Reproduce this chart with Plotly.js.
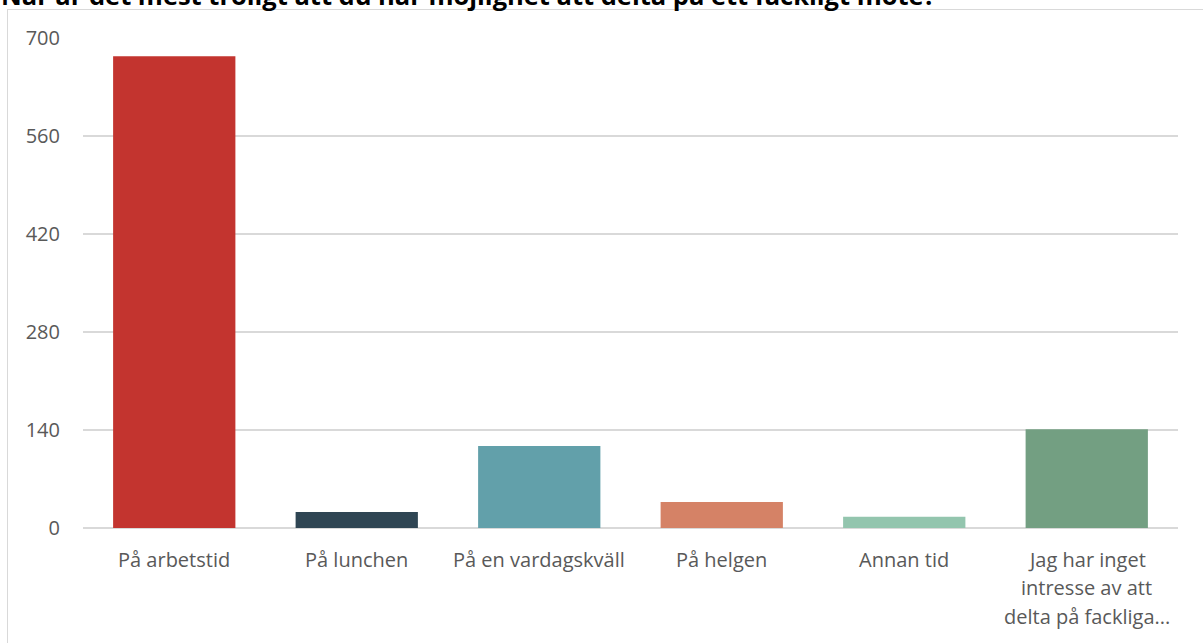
<!DOCTYPE html>
<html><head><meta charset="utf-8">
<script src="https://cdn.plot.ly/plotly-3.0.1.min.js"></script>
<style>
html,body{margin:0;padding:0;background:#fff;overflow:hidden}
#frame{position:absolute;left:7px;top:9px;width:1400px;height:800px;border:1.5px solid #D9D9D9;box-sizing:border-box}
#chart{position:absolute;left:0;top:0;width:1203px;height:643px}
</style></head>
<body>
<div id="frame"></div>
<div id="chart"></div>
<script>
const titleText = "När är det mest troligt att du har möjlighet att delta på ett fackligt möte?";
const categories = ["På arbetstid","På lunchen","På en vardagskväll","På helgen","Annan tid","Jag har inget intresse av att delta på fackliga..."];
const labelLines = [["På arbetstid"],["På lunchen"],["På en vardagskväll"],["På helgen"],["Annan tid"],["Jag har inget","intresse av att","delta på fackliga..."]];
const values = [674, 23, 117, 37, 16, 141];
const colors = ["#C3342F","#2F4553","#62A0AA","#D58266","#93C5AE","#739F82"];
const yTicks = [0,140,280,420,560,700];

const font = "Open Sans, sans-serif";
const annotations = [];
labelLines.forEach((lines, i) => {
  lines.forEach((ln, j) => {
    annotations.push({
      xref: "x", x: categories[i], yref: "paper", y: 0,
      yanchor: "middle", xanchor: "center",
      yshift: -(31 + j * 28.5),
      text: ln, showarrow: false,
      font: {family: font, size: 20, color: "#595959"}
    });
  });
});
// chart title (partly cut off at the top edge, as in the reference)
annotations.push({
  xref: "paper", x: 0, xanchor: "left", xshift: -84,
  yref: "paper", y: 1, yanchor: "middle", yshift: 43,
  text: "<b>" + titleText + "</b>", showarrow: false,
  font: {family: font, size: 25.5, color: "#000", weight: 800}
});

const data = [{
  type: "bar", x: categories, y: values,
  marker: {color: colors},
  hoverinfo: "x+y"
}];
const layout = {
  width: 1203, height: 643,
  margin: {l: 83, r: 25, t: 38, b: 115},
  paper_bgcolor: "rgba(0,0,0,0)", plot_bgcolor: "rgba(0,0,0,0)",
  bargap: 0.33,
  showlegend: false,
  xaxis: {showticklabels: false, showgrid: false, zeroline: false, showline: false, fixedrange: true},
  yaxis: {
    range: [0, 700], tickvals: yTicks, ticktext: yTicks.map(String),
    showgrid: true, gridcolor: "#D9D9D9", gridwidth: 1.3,
    zeroline: true, zerolinecolor: "#D9D9D9", zerolinewidth: 1.3,
    showline: false, ticks: "", ticklabelstandoff: 22,
    tickfont: {family: font, size: 20, color: "#595959"}
  },
  annotations: annotations
};
Plotly.newPlot("chart", data, layout, {displayModeBar: false, staticPlot: true});
</script>
</body></html>
